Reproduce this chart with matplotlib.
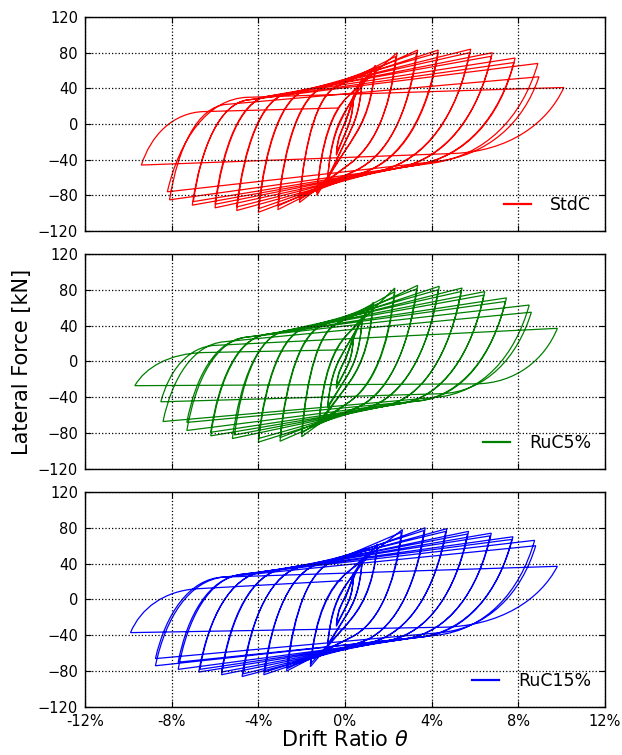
import matplotlib
matplotlib.use('Agg')
import matplotlib.pyplot as plt
from matplotlib.path import Path
from matplotlib.patches import PathPatch
from matplotlib.lines import Line2D

# cyclic test records: peaks of every cycle (drift %, force kN) and the knee
# where each unloading branch joins the reloading branch
# --- StdC ---
stdc_pos_drift = [0.4, 0.4, 0.8, 0.8, 1.4, 1.4, 2.4, 2.35, 3.35, 3.3, 4.3, 4.3,
                  5.8, 5.75, 6.8, 6.75, 7.85, 7.8, 8.9, 8.95, 10.1]
stdc_pos_force = [32, 30, 52, 50, 66, 63, 80, 76, 83, 80, 83, 80,
                  84, 80, 80, 76, 74, 69, 68, 53, 41]
stdc_neg_drift = [-0.4, -0.4, -0.8, -0.8, -1.3, -1.3, -2.1, -2.1, -3.1, -3.1, -4.0, -4.0,
                  -5.0, -5.0, -6.0, -6.0, -7.05, -7.0, -8.1, -8.2, -9.4]
stdc_neg_force = [-35, -33, -62, -60, -80, -77, -88, -85, -96, -92, -99, -95,
                  -97, -93, -94, -90, -91, -87, -85, -76, -46]
stdc_lo_knee_x = [0.05, 0.05, 0.05, 0.05, 0.0, 0.0, 0.2, 0.2, 0.5, 0.5, 0.9, 0.9,
                  1.7, 1.7, 2.5, 2.5, 3.3, 3.3, 4.0, 4.2, 5.0]
stdc_lo_knee_f = [-8, -8, -18, -18, -30, -30, -45, -45, -52, -52, -54, -54,
                  -52, -52, -49, -49, -46, -46, -44, -42, -33]
stdc_hi_knee_x = [0.1, 0.1, 0.15, 0.15, 0.1, 0.1, -0.4, -0.4, -1.0, -1.0, -1.8, -1.8,
                  -2.7, -2.7, -3.6, -3.6, -4.5, -4.5, -5.5, -4.5, -6.5]
stdc_hi_knee_f = [8, 8, 20, 20, 30, 30, 42, 42, 41, 41, 38, 38,
                  34, 34, 31, 31, 27, 27, 22, 30, 14]
stdc_end = (-0.3, 18)

# --- RuC5% ---
ruc5_pos_drift = [0.4, 0.4, 0.8, 0.8, 1.3, 1.3, 2.3, 2.3, 3.35, 3.3, 4.35, 4.3,
                  5.4, 5.35, 6.45, 6.4, 7.45, 7.4, 8.5, 8.6, 9.8]
ruc5_pos_force = [30, 28, 50, 48, 66, 63, 82, 78, 85, 81, 84, 80,
                  82, 78, 78, 74, 71, 67, 63, 55, 37]
ruc5_neg_drift = [-0.4, -0.4, -0.8, -0.8, -1.2, -1.2, -2.0, -2.0, -3.0, -3.0, -4.0, -4.0,
                  -5.2, -5.1, -6.2, -6.2, -7.3, -7.3, -8.4, -8.5, -9.7]
ruc5_neg_force = [-30, -28, -52, -50, -70, -67, -84, -80, -89, -85, -90, -86,
                  -86, -82, -83, -79, -77, -68, -67, -45, -27]
ruc5_lo_knee_x = [0.05, 0.05, 0.05, 0.05, 0.0, 0.0, 0.2, 0.2, 0.5, 0.5, 1.0, 1.0,
                  1.8, 1.8, 2.6, 2.6, 3.4, 3.4, 4.2, 4.4, 6.0]
ruc5_lo_knee_f = [-8, -8, -18, -18, -30, -30, -45, -45, -52, -52, -52, -52,
                  -50, -50, -47, -47, -44, -44, -40, -36, -25]
ruc5_hi_knee_x = [0.1, 0.1, 0.15, 0.15, 0.1, 0.1, -0.4, -0.4, -1.0, -1.0, -1.8, -1.8,
                  -2.8, -2.8, -3.7, -3.7, -4.6, -4.6, -5.6, -6.0, -6.5]
ruc5_hi_knee_f = [8, 8, 20, 20, 30, 30, 42, 42, 41, 41, 38, 38,
                  34, 34, 30, 30, 27, 27, 22, 18, 10]
ruc5_end = (-0.1, 13)

# --- RuC15% ---
ruc15_pos_drift = [0.4, 0.4, 0.8, 0.8, 1.5, 1.5, 2.65, 2.6, 3.7, 3.65, 4.7, 4.65,
                   5.7, 5.65, 6.75, 6.7, 7.75, 7.7, 8.75, 8.8, 9.8]
ruc15_pos_force = [28, 26, 46, 44, 62, 60, 78, 75, 80, 77, 79, 76,
                   76, 73, 74, 71, 70, 67, 66, 60, 37]
ruc15_neg_drift = [-0.4, -0.4, -0.8, -0.8, -1.6, -1.6, -2.7, -2.65, -3.75, -3.7, -4.75, -4.7,
                   -5.7, -5.7, -6.75, -6.7, -7.7, -7.7, -8.75, -8.75, -9.9]
ruc15_neg_force = [-30, -28, -52, -50, -75, -72, -80, -77, -84, -81, -86, -83,
                   -84, -81, -81, -78, -78, -70, -74, -66, -37]
ruc15_lo_knee_x = [0.05, 0.05, 0.05, 0.05, 0.0, 0.0, 0.3, 0.3, 0.7, 0.7, 1.2, 1.2,
                   2.0, 2.0, 2.8, 2.8, 3.5, 3.5, 4.2, 4.4, 4.5]
ruc15_lo_knee_f = [-8, -8, -18, -18, -30, -30, -42, -42, -48, -48, -48, -48,
                   -46, -46, -44, -44, -42, -42, -40, -37, -31]
ruc15_hi_knee_x = [0.1, 0.1, 0.15, 0.15, 0.1, 0.1, -0.6, -0.6, -1.2, -1.2, -2.0, -2.0,
                   -2.9, -2.9, -3.8, -3.8, -4.8, -4.8, -5.6, -5.6, -6.8]
ruc15_hi_knee_f = [8, 8, 20, 20, 30, 30, 42, 42, 40, 40, 37, 37,
                   34, 34, 31, 31, 28, 28, 25, 25, 12]
ruc15_end = (-0.1, 21)

x_ticks = [-12, -8, -4, 0, 4, 8, 12]
x_tick_labels = ['-12%', '-8%', '-4%', '0%', '4%', '8%', '12%']
y_ticks = [-120, -80, -40, 0, 40, 80, 120]


def hysteresis_path(pos_d, pos_f, neg_d, neg_f, lo_x, lo_f, hi_x, hi_f, end):
    verts = [(0.0, 0.0), (pos_d[0], pos_f[0])]
    codes = [Path.MOVETO, Path.LINETO]

    def half_cycle(a, k, b):
        # curved unloading from peak a down to knee k, then straight on to peak b
        dx = k[0] - a[0]
        df = k[1] - a[1]
        s = (k[1] - b[1]) / (k[0] - b[0])
        verts.extend([(a[0] + 0.15 * dx, a[1] + 0.55 * df),
                      (k[0] - 0.5 * dx, k[1] - s * 0.5 * dx),
                      k, b])
        codes.extend([Path.CURVE4] * 3 + [Path.LINETO])

    n = len(pos_d)
    for i in range(n):
        nxt = (pos_d[i + 1], pos_f[i + 1]) if i < n - 1 else end
        half_cycle((pos_d[i], pos_f[i]), (lo_x[i], lo_f[i]), (neg_d[i], neg_f[i]))
        half_cycle((neg_d[i], neg_f[i]), (hi_x[i], hi_f[i]), nxt)
    return Path(verts, codes)


specimens = [
    ('StdC', '#ff0000', (stdc_pos_drift, stdc_pos_force, stdc_neg_drift, stdc_neg_force,
                         stdc_lo_knee_x, stdc_lo_knee_f, stdc_hi_knee_x, stdc_hi_knee_f, stdc_end)),
    ('RuC5%', '#008000', (ruc5_pos_drift, ruc5_pos_force, ruc5_neg_drift, ruc5_neg_force,
                          ruc5_lo_knee_x, ruc5_lo_knee_f, ruc5_hi_knee_x, ruc5_hi_knee_f, ruc5_end)),
    ('RuC15%', '#0000ff', (ruc15_pos_drift, ruc15_pos_force, ruc15_neg_drift, ruc15_neg_force,
                           ruc15_lo_knee_x, ruc15_lo_knee_f, ruc15_hi_knee_x, ruc15_hi_knee_f, ruc15_end)),
]

fig = plt.figure(figsize=(6.22, 7.55), dpi=100)
rects = [[0.1367, 0.694, 0.836, 0.2834],
         [0.1367, 0.3788, 0.836, 0.2848],
         [0.1367, 0.0636, 0.836, 0.2848]]

axes = []
for rect, (name, color, rec) in zip(rects, specimens):
    ax = fig.add_axes(rect)
    ax.add_patch(PathPatch(hysteresis_path(*rec), facecolor='none',
                           edgecolor=color, lw=0.9))
    ax.set_xlim(-12, 12)
    ax.set_ylim(-120, 120)
    ax.set_xticks(x_ticks)
    ax.set_yticks(y_ticks)
    ax.grid(True, color='k', linestyle=':', linewidth=0.9)
    ax.tick_params(direction='in', top=True, right=True, length=4,
                   labelsize=10.5, pad=5)
    for sp in ax.spines.values():
        sp.set_linewidth(1.0)
    handle = Line2D([], [], color=color, lw=1.6)
    ax.legend([handle], [name], loc='center right', bbox_to_anchor=(0.99, 0.12),
              frameon=False, fontsize=12.5, borderpad=0, handlelength=1.56,
              handletextpad=1.1)
    axes.append(ax)

for ax in axes[:2]:
    ax.set_xticklabels([])
axes[2].set_xticklabels(x_tick_labels)

axes[1].set_ylabel('Lateral Force [kN]', fontsize=15)
axes[1].yaxis.set_label_coords(-0.102, 0.5)
axes[2].set_xlabel(r'Drift Ratio $\theta$', fontsize=15, labelpad=1)

plt.savefig('out.png', dpi=100, facecolor='white')
